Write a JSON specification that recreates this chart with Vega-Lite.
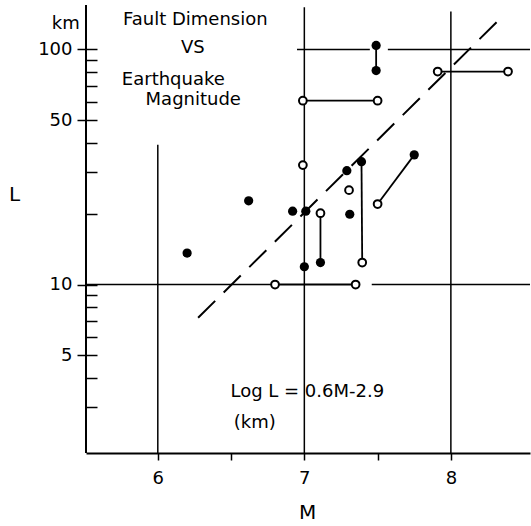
{
  "$schema": "https://vega.github.io/schema/vega-lite/v6.json",
  "width": 444,
  "height": 448,
  "autosize": {"type": "none"},
  "padding": {"left": 86, "top": 5, "right": 1, "bottom": 73},
  "background": "white",
  "config": {
    "view": {"stroke": null},
    "font": "DejaVu Sans",
    "text": {"font": "DejaVu Sans", "color": "black"}
  },
  "datasets": {
    "points": [
      {"M": 6.20, "L": 13.6, "kind": "filled"},
      {"M": 6.62, "L": 22.7, "kind": "filled"},
      {"M": 6.92, "L": 20.5, "kind": "filled"},
      {"M": 7.01, "L": 20.5, "kind": "filled"},
      {"M": 7.00, "L": 11.9, "kind": "filled"},
      {"M": 7.11, "L": 12.4, "kind": "filled"},
      {"M": 7.29, "L": 30.5, "kind": "filled"},
      {"M": 7.31, "L": 19.9, "kind": "filled"},
      {"M": 7.39, "L": 33.3, "kind": "filled"},
      {"M": 7.49, "L": 104, "kind": "filled"},
      {"M": 7.49, "L": 81.3, "kind": "filled"},
      {"M": 7.75, "L": 35.6, "kind": "filled"},
      {"M": 6.99, "L": 32.2, "kind": "open"},
      {"M": 7.11, "L": 20.1, "kind": "open"},
      {"M": 6.80, "L": 10.0, "kind": "open"},
      {"M": 7.35, "L": 10.0, "kind": "open"},
      {"M": 7.305, "L": 25.2, "kind": "open"},
      {"M": 7.395, "L": 12.4, "kind": "open"},
      {"M": 7.50, "L": 22.0, "kind": "open"},
      {"M": 6.99, "L": 60.5, "kind": "open"},
      {"M": 7.50, "L": 60.5, "kind": "open"},
      {"M": 7.91, "L": 80.5, "kind": "open"},
      {"M": 8.39, "L": 80.5, "kind": "open"}
    ],
    "segments": [
      {"M": 7.11, "L": 20.1, "M2": 7.11, "L2": 12.4},
      {"M": 6.80, "L": 10.0, "M2": 7.35, "L2": 10.0},
      {"M": 7.39, "L": 33.3, "M2": 7.395, "L2": 12.4},
      {"M": 7.75, "L": 35.6, "M2": 7.50, "L2": 22.0},
      {"M": 7.49, "L": 104, "M2": 7.49, "L2": 81.3},
      {"M": 6.99, "L": 60.5, "M2": 7.50, "L2": 60.5},
      {"M": 7.91, "L": 80.5, "M2": 8.39, "L2": 80.5}
    ],
    "frame": [
      {"M": 5.51, "L": 1.92, "M2": 5.51, "L2": 154.5}
    ],
    "guides": [
      {"M": 6.0, "L": 1.92, "M2": 6.0, "L2": 39.3},
      {"M": 7.0, "L": 1.92, "M2": 7.0, "L2": 151},
      {"M": 8.0, "L": 1.92, "M2": 8.0, "L2": 145},
      {"M": 6.95, "L": 100, "M2": 7.447, "L2": 100},
      {"M": 7.57, "L": 100, "M2": 8.54, "L2": 100},
      {"M": 5.51, "L": 10, "M2": 6.80, "L2": 10},
      {"M": 7.46, "L": 10, "M2": 8.54, "L2": 10}
    ],
    "fit": [
      {"M": 6.275, "L": 7.22, "M2": 8.32, "L2": 132}
    ],
    "labels": [
      {"M": 6.256, "L": 133.5, "text": "Fault Dimension"},
      {"M": 6.239, "L": 101.8, "text": "VS"},
      {"M": 6.106, "L": 74.1, "text": "Earthquake"},
      {"M": 6.242, "L": 61.0, "text": "Magnitude"},
      {"M": 7.02, "L": 3.49, "text": "Log L = 0.6M-2.9"},
      {"M": 6.662, "L": 2.574, "text": "(km)"},
      {"M": 5.372, "L": 128.4, "text": "km"}
    ]
  },
  "encoding": {
    "x": {
      "field": "M",
      "type": "quantitative",
      "scale": {"domain": [5.51, 8.54], "nice": false, "zero": false},
      "axis": {
        "title": "M",
        "titleFont": "DejaVu Sans",
        "titleFontSize": 20,
        "titleFontWeight": "normal",
        "titleColor": "black",
        "titleX": 221,
        "titleY": 59,
        "titleBaseline": "middle",
        "titleAlign": "center",
        "values": [6, 6.5, 7, 7.5, 8],
        "labelExpr": "datum.value % 1 == 0 ? format(datum.value, 'd') : ''",
        "labelFont": "DejaVu Sans",
        "labelFontSize": 18,
        "labelColor": "black",
        "labelPadding": 9,
        "tickSize": 7,
        "tickColor": "black",
        "tickWidth": 1.5,
        "domainColor": "black",
        "domainWidth": 2,
        "grid": false
      }
    },
    "y": {
      "field": "L",
      "type": "quantitative",
      "scale": {"type": "log", "domain": [1.92, 154.5], "nice": false, "zero": false},
      "axis": {
        "title": "L",
        "titleFont": "DejaVu Sans",
        "titleFontSize": 20,
        "titleFontWeight": "normal",
        "titleColor": "black",
        "titleAngle": 0,
        "titleX": -83,
        "titleY": 189,
        "titleBaseline": "middle",
        "titleAlign": "center",
        "values": [3, 4, 5, 6, 7, 8, 9, 10, 20, 30, 40, 50, 60, 70, 80, 90, 100],
        "labelExpr": "indexof([100, 50, 10, 5], datum.value) >= 0 ? format(datum.value, 'd') : ''",
        "labelFont": "DejaVu Sans",
        "labelFontSize": 18,
        "labelColor": "black",
        "labelPadding": 5,
        "labelBaseline": "middle",
        "offset": -11,
        "domain": false,
        "tickSize": {"condition": {"test": "indexof([100, 50, 10, 5], datum.value) >= 0", "value": 20}, "value": 11},
        "tickColor": "black",
        "tickWidth": 1.5,
        "grid": false
      }
    }
  },
  "layer": [
    {
      "data": {"name": "frame"},
      "mark": {"type": "rule", "color": "black", "strokeWidth": 2},
      "encoding": {"x2": {"field": "M2"}, "y2": {"field": "L2"}}
    },
    {
      "data": {"name": "guides"},
      "mark": {"type": "rule", "color": "black", "strokeWidth": 1.5},
      "encoding": {"x2": {"field": "M2"}, "y2": {"field": "L2"}}
    },
    {
      "data": {"name": "fit"},
      "mark": {"type": "rule", "color": "black", "strokeWidth": 2, "strokeDash": [24, 12]},
      "encoding": {"x2": {"field": "M2"}, "y2": {"field": "L2"}}
    },
    {
      "data": {"name": "segments"},
      "mark": {"type": "rule", "color": "black", "strokeWidth": 1.8},
      "encoding": {"x2": {"field": "M2"}, "y2": {"field": "L2"}}
    },
    {
      "data": {"name": "points"},
      "transform": [{"filter": "datum.kind == 'filled'"}],
      "mark": {"type": "point", "shape": "circle", "filled": true, "color": "black", "size": 85, "opacity": 1}
    },
    {
      "data": {"name": "points"},
      "transform": [{"filter": "datum.kind == 'open'"}],
      "mark": {"type": "point", "shape": "circle", "filled": false, "fill": "white", "stroke": "black", "strokeWidth": 2, "size": 60, "opacity": 1, "fillOpacity": 1}
    },
    {
      "data": {"name": "labels"},
      "mark": {"type": "text", "font": "DejaVu Sans", "fontSize": 18, "align": "center", "baseline": "middle", "color": "black"},
      "encoding": {"text": {"field": "text"}}
    }
  ]
}
